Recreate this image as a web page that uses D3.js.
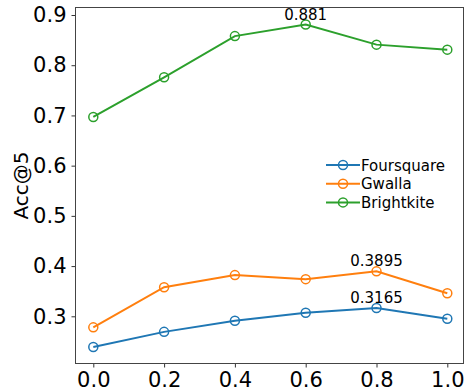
<!DOCTYPE html>
<html>
<head>
<meta charset="utf-8">
<script src="https://cdn.jsdelivr.net/npm/d3@7"></script>
<style>
  body { margin: 0; background: #fff; }
  text { font-family: "DejaVu Sans", sans-serif; }
</style>
</head>
<body>
<svg width="465" height="391"></svg>
<script>
var xValues = [0.0, 0.2, 0.4, 0.6, 0.8, 1.0];
var foursquare = [0.239, 0.269, 0.291, 0.307, 0.3165, 0.295];
var gwalla = [0.278, 0.358, 0.382, 0.374, 0.3895, 0.346];
var brightkite = [0.697, 0.776, 0.858, 0.881, 0.841, 0.831];
var seriesNames = ["Foursquare", "Gwalla", "Brightkite"];
var seriesColors = ["#1f77b4", "#ff7f0e", "#2ca02c"];
var xTicks = [0.0, 0.2, 0.4, 0.6, 0.8, 1.0];
var yTicks = [0.3, 0.4, 0.5, 0.6, 0.7, 0.8, 0.9];

var series = [foursquare, gwalla, brightkite];

var svg = d3.select("svg");
var frame = {left: 75.5, right: 463.5, top: 7.5, bottom: 363.5};

var x = d3.scaleLinear().domain([0, 1]).range([93.3, 447.3]);
var y = d3.scaleLinear().domain([0.3, 0.9]).range([316.3, 15]);

// axes
var xAxis = svg.append("g")
    .attr("transform", "translate(0," + frame.bottom + ")")
    .call(d3.axisBottom(x).tickValues(xTicks).tickFormat(d3.format(".1f")).tickSize(4).tickPadding(5));
var yAxis = svg.append("g")
    .attr("transform", "translate(" + frame.left + ",0)")
    .call(d3.axisLeft(y).tickValues(yTicks).tickFormat(d3.format(".1f")).tickSize(4).tickPadding(5));

[xAxis, yAxis].forEach(function(a) {
  a.select(".domain").remove();
  a.selectAll("line").attr("stroke", "#333").attr("stroke-width", 1);
  a.selectAll("text").attr("font-size", "21px").attr("fill", "#000")
    .style("font-family", "DejaVu Sans, sans-serif");
});

// frame
svg.append("rect")
    .attr("x", frame.left).attr("y", frame.top)
    .attr("width", frame.right - frame.left)
    .attr("height", frame.bottom - frame.top)
    .attr("fill", "none").attr("stroke", "#444").attr("stroke-width", 1);

svg.append("text")
    .attr("transform", "translate(28," + ((frame.top + frame.bottom) / 2) + ") rotate(-90)")
    .attr("text-anchor", "middle")
    .attr("font-size", "20px")
    .text("Acc@5");

var line = d3.line()
    .x(function(d, i) { return x(xValues[i]); })
    .y(function(d) { return y(d); });

series.forEach(function(s, k) {
  svg.append("path")
      .datum(s)
      .attr("d", line)
      .attr("fill", "none")
      .attr("stroke", seriesColors[k])
      .attr("stroke-width", 2);
  svg.selectAll(".pt" + k)
      .data(s)
      .enter().append("circle")
      .attr("cx", function(d, i) { return x(xValues[i]); })
      .attr("cy", function(d) { return y(d); })
      .attr("r", 4.5)
      .attr("fill", "none")
      .attr("stroke", seriesColors[k])
      .attr("stroke-width", 1.5);
});

// annotations of peak values
var notes = [
  {x: 0.6, v: brightkite[3], label: "0.881"},
  {x: 0.8, v: gwalla[4], label: "0.3895"},
  {x: 0.8, v: foursquare[4], label: "0.3165"}
];
svg.selectAll(".note")
    .data(notes)
    .enter().append("text")
    .attr("x", function(d) { return x(d.x); })
    .attr("y", function(d) { return y(d.v) - 5; })
    .attr("text-anchor", "middle")
    .attr("font-size", "15px")
    .text(function(d) { return d.label; });

// legend
var legend = svg.append("g").attr("transform", "translate(326,165)");
seriesNames.forEach(function(name, k) {
  var g = legend.append("g").attr("transform", "translate(0," + (k * 18.7) + ")");
  g.append("line").attr("x1", 0).attr("x2", 34).attr("y1", 0).attr("y2", 0)
      .attr("stroke", seriesColors[k]).attr("stroke-width", 2);
  g.append("circle").attr("cx", 17).attr("cy", 0).attr("r", 4.5)
      .attr("fill", "none").attr("stroke", seriesColors[k]).attr("stroke-width", 1.5);
  g.append("text").attr("x", 35).attr("y", 5.5).attr("font-size", "15px").text(name);
});
</script>
</body>
</html>
